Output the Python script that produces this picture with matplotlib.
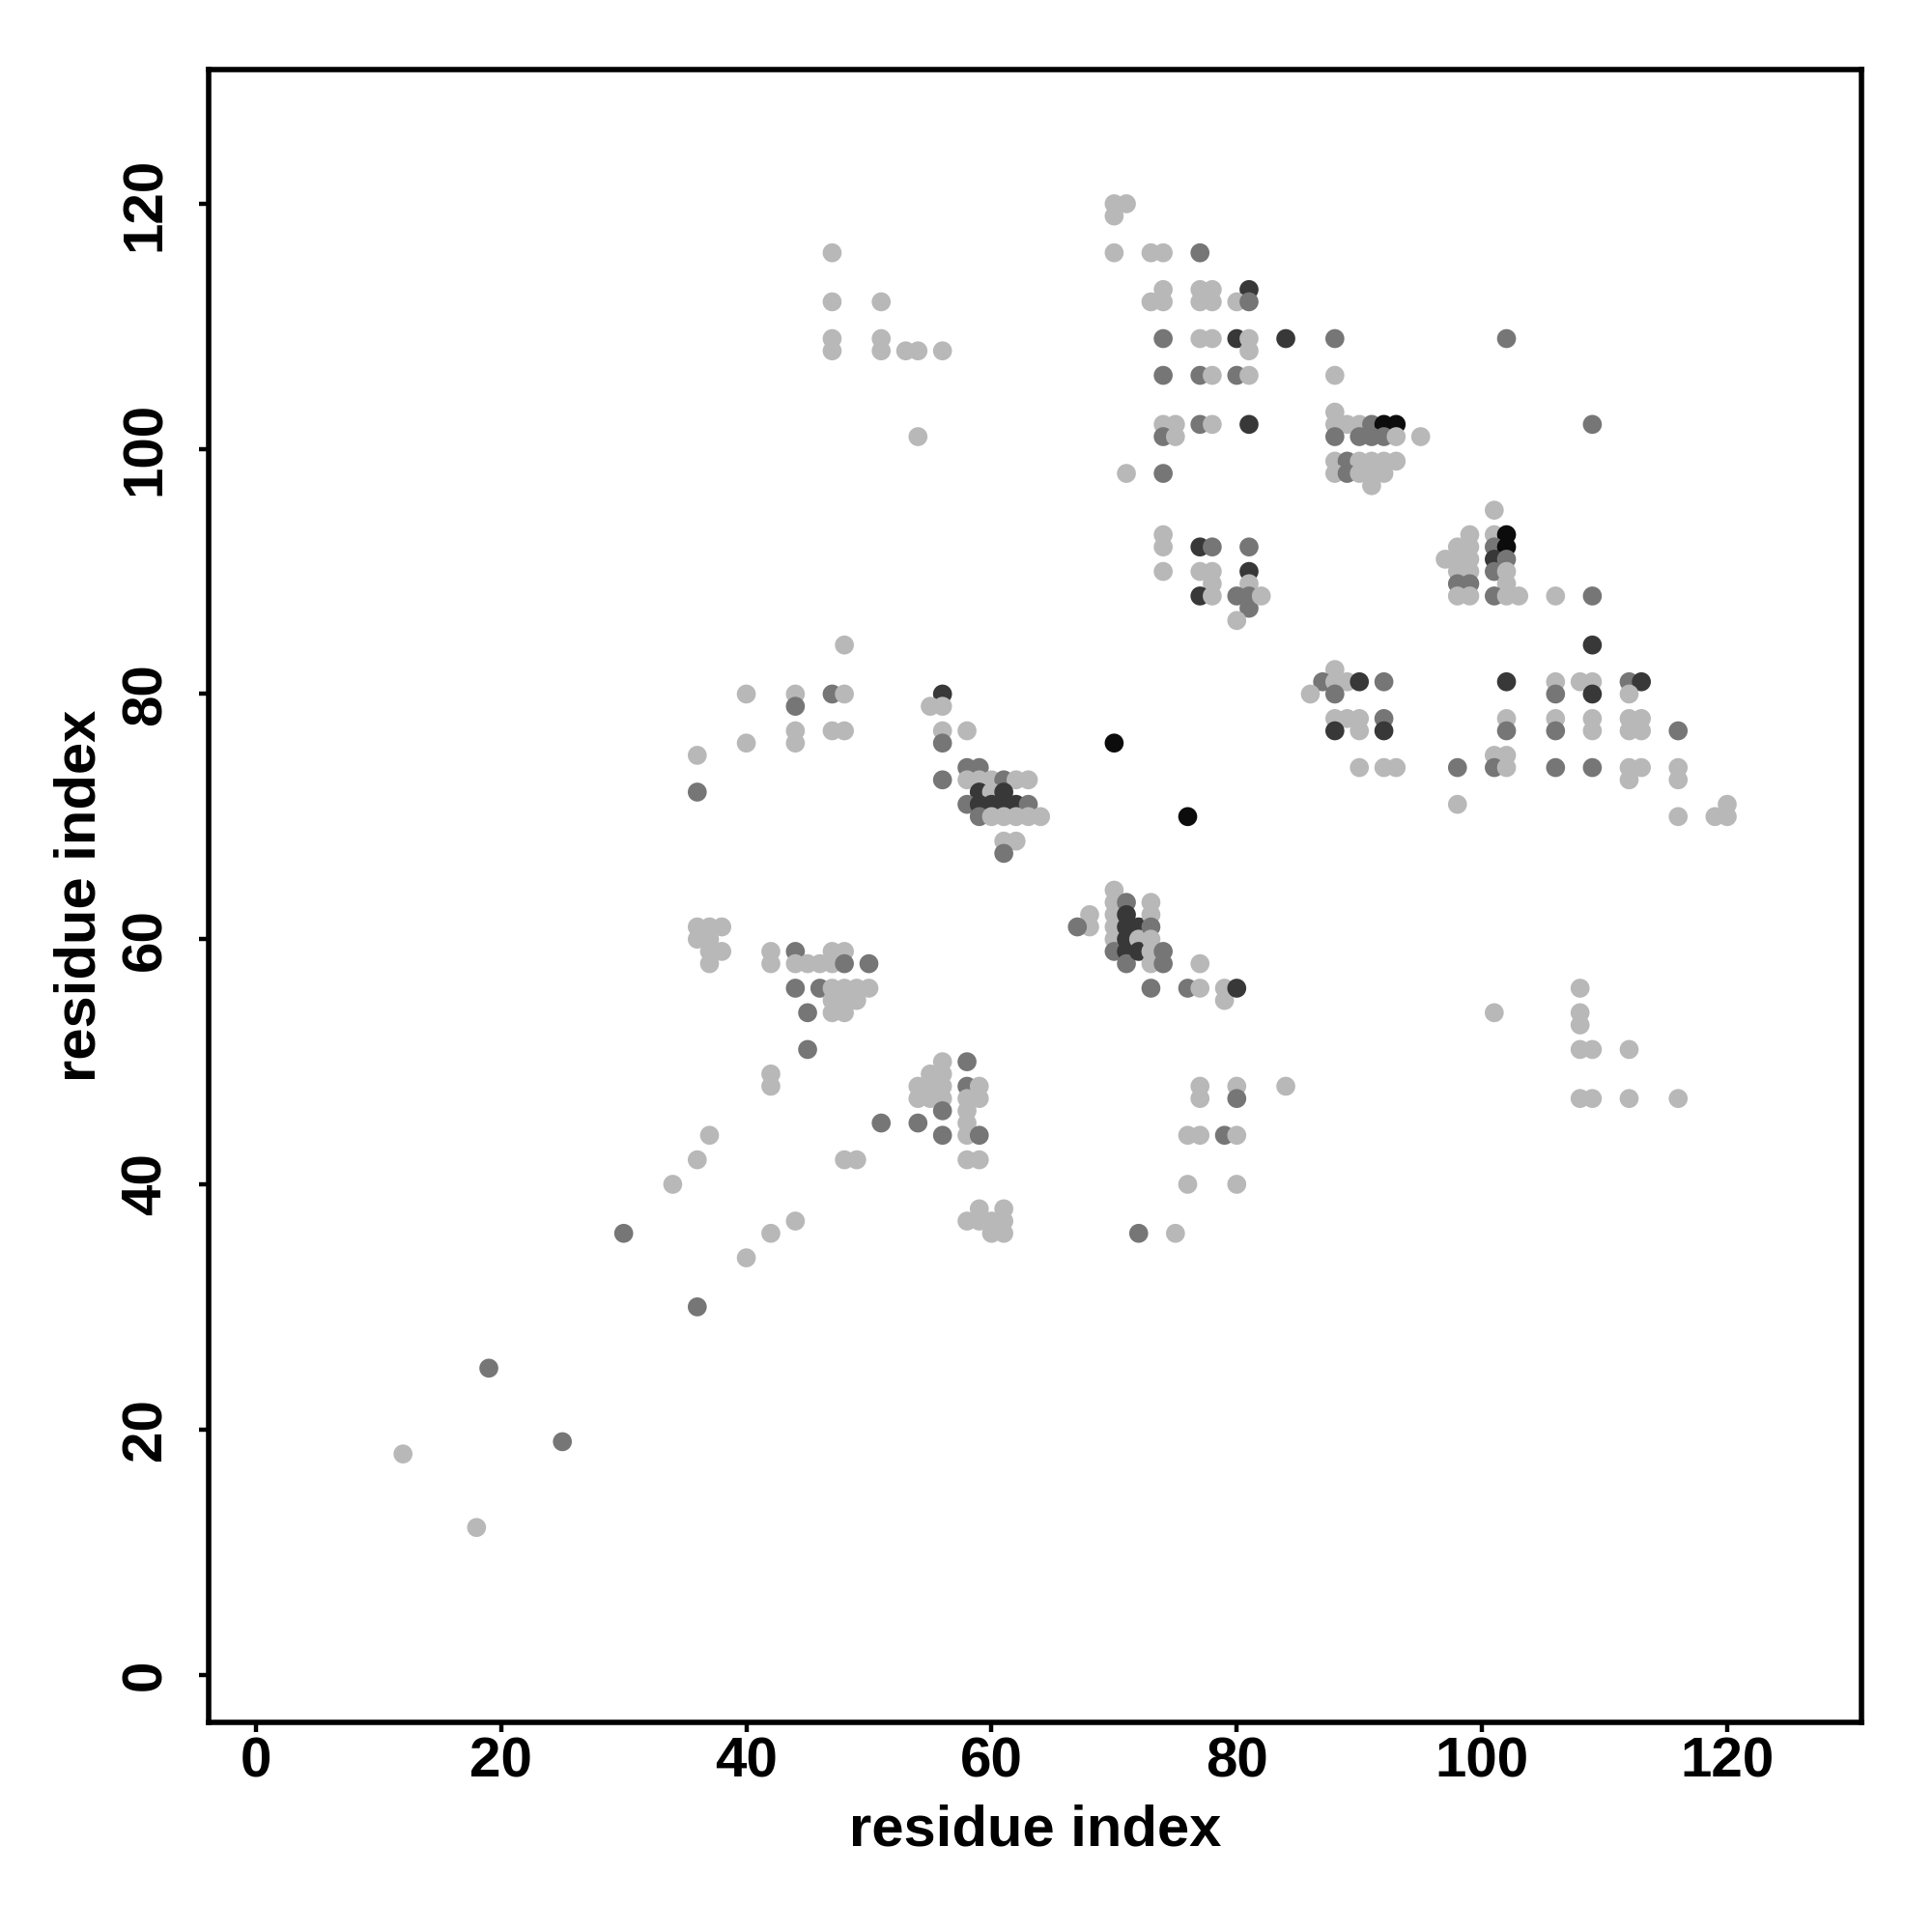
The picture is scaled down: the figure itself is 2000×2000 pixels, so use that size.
import matplotlib
matplotlib.use("Agg")
import matplotlib.pyplot as plt

# --- DATA: contact pairs (residue i, residue j) and contact level 1..4 ---
res_i = [
    47, 47, 51, 47, 47, 51, 51, 53, 54, 56, 54,
    70, 71, 70, 70, 73, 74, 77, 74, 73, 74, 77, 78, 77, 78, 81, 80, 81,
    74, 77, 78, 80, 81, 81, 84, 74, 77, 78, 80, 81,
    74, 75, 74, 75, 77, 78, 81, 71, 74,
    74, 74, 74, 77, 78, 81, 77, 78, 78, 77, 78, 81, 81, 80, 81, 81, 82, 80,
    88, 102, 88, 88, 88, 89, 90, 91, 92, 93, 88, 90, 91, 92, 93, 95,
    88, 89, 90, 91, 92, 93, 88, 89, 90, 91, 92, 91, 101, 109,
    99, 101, 102, 98, 99, 101, 102, 97, 98, 99, 101, 102,
    98, 99, 101, 102, 98, 99, 102, 98, 99, 101, 102, 103, 106, 109, 109,
    88, 87, 88, 89, 90, 92, 86, 88, 88, 89, 90, 92, 88, 90, 92,
    90, 92, 93, 98, 98, 102, 101, 102, 101, 102, 102, 102,
    106, 106, 106, 106, 106, 108, 109, 109, 109, 109, 109,
    112, 113, 112, 112, 113, 112, 113, 112, 113, 112,
    116, 116, 116, 116, 119, 120, 120,
    48, 40, 44, 44, 47, 48, 44, 44, 47, 48, 40, 36, 36,
    56, 55, 56, 56, 56, 58, 56, 58, 59, 58, 59, 60, 61, 62, 63,
    59, 60, 61, 58, 59, 60, 61, 62, 63, 59, 60, 61, 62, 63, 64, 61, 62, 61,
    70, 76, 70, 70, 70, 70, 70, 70, 68, 68, 67,
    71, 71, 71, 71, 71, 71, 72, 72, 72, 73, 73, 73, 73, 73, 73, 74, 74,
    73, 76, 77, 77, 79, 79, 80,
    36, 37, 38, 36, 37, 37, 38, 37, 42, 42, 44, 44, 45, 46, 47, 47, 48, 48, 50,
    44, 46, 47, 48, 49, 50, 47, 48, 49, 45, 47, 48, 45, 42, 42,
    51, 54, 56, 58, 55, 56, 54, 55, 56, 58, 59, 54, 55, 56, 58, 59,
    56, 58, 58, 56, 58, 59, 58, 59, 59, 61, 58, 59, 60, 61, 60, 61,
    77, 77, 80, 80, 76, 77, 79, 80, 76, 80, 72, 75, 84,
    101, 108, 108, 108, 108, 109, 112, 108, 109, 112, 116,
    48, 49, 37, 36, 34, 30, 42, 44, 40, 36, 19, 25, 12, 18,
]
res_j = [
    116, 112, 112, 109, 108, 109, 108, 108, 108, 108, 101,
    120, 120, 119, 116, 116, 116, 116, 113, 112, 112, 113, 113, 112, 112, 113, 112, 112,
    109, 109, 109, 109, 109, 108, 109, 106, 106, 106, 106, 106,
    102, 102, 101, 101, 102, 102, 102, 98, 98,
    93, 92, 90, 92, 92, 92, 90, 90, 89, 88, 88, 90, 89, 88, 88, 87, 88, 86,
    109, 109, 106, 103, 102, 102, 102, 102, 102, 102, 101, 101, 101, 101, 101, 101,
    99, 99, 99, 99, 99, 99, 98, 98, 98, 98, 98, 97, 95, 102,
    93, 93, 93, 92, 92, 92, 92, 91, 91, 91, 91, 91,
    90, 90, 90, 90, 89, 89, 89, 88, 88, 88, 88, 88, 88, 88, 84,
    82, 81, 81, 81, 81, 81, 80, 80, 78, 78, 78, 78, 77, 77, 77,
    74, 74, 74, 74, 71, 81, 75, 75, 74, 74, 78, 77,
    81, 80, 78, 77, 74, 81, 81, 80, 78, 77, 74,
    81, 81, 80, 78, 78, 77, 77, 74, 74, 73,
    77, 74, 73, 70, 70, 70, 71,
    84, 80, 80, 79, 80, 80, 77, 76, 77, 77, 76, 75, 72,
    80, 79, 79, 77, 76, 77, 73, 74, 74, 73, 73, 73, 73, 73, 73,
    72, 72, 72, 71, 71, 71, 71, 71, 71, 70, 70, 70, 70, 70, 70, 68, 68, 67,
    76, 70, 64, 63, 62, 61, 60, 59, 62, 61, 61,
    63, 62, 61, 60, 59, 58, 61, 60, 59, 63, 62, 61, 60, 59, 58, 59, 58,
    56, 56, 56, 58, 56, 55, 56,
    61, 61, 61, 60, 60, 59, 59, 58, 59, 58, 59, 58, 58, 58, 58, 59, 59, 58, 58,
    56, 56, 56, 56, 56, 56, 55, 55, 55, 54, 54, 54, 51, 49, 48,
    45, 45, 50, 50, 49, 49, 48, 48, 48, 48, 48, 47, 47, 47, 47, 47,
    46, 46, 45, 44, 44, 44, 42, 42, 38, 38, 37, 37, 37, 37, 36, 36,
    48, 47, 48, 47, 44, 44, 44, 44, 40, 40, 36, 36, 48,
    54, 56, 54, 53, 51, 51, 51, 47, 47, 47, 47,
    42, 42, 44, 42, 40, 36, 36, 37, 34, 30, 25, 19, 18, 12,
]
level = [
    1, 1, 1, 1, 1, 1, 1, 1, 1, 1, 1,
    1, 1, 1, 1, 1, 1, 2, 1, 1, 1, 1, 1, 1, 1, 3, 1, 2,
    2, 1, 1, 3, 1, 1, 3, 2, 2, 1, 2, 1,
    1, 1, 2, 1, 2, 1, 3, 1, 2,
    1, 1, 1, 3, 2, 2, 1, 1, 1, 3, 1, 3, 1, 2, 2, 2, 1, 1,
    2, 2, 1, 1, 1, 1, 1, 2, 4, 4, 2, 2, 2, 2, 1, 1,
    1, 2, 1, 1, 1, 1, 1, 2, 1, 1, 1, 1, 1, 2,
    1, 1, 4, 1, 1, 2, 4, 1, 1, 1, 3, 2,
    1, 1, 2, 1, 2, 2, 1, 1, 1, 2, 1, 1, 1, 2, 3,
    1, 2, 1, 1, 3, 2, 1, 2, 1, 1, 1, 2, 3, 1, 3,
    1, 1, 1, 2, 1, 3, 1, 1, 2, 1, 1, 2,
    1, 2, 1, 2, 2, 1, 1, 3, 1, 1, 2,
    2, 3, 1, 1, 1, 1, 1, 1, 1, 1,
    2, 1, 1, 1, 1, 1, 1,
    1, 1, 1, 2, 2, 1, 1, 1, 1, 1, 1, 1, 2,
    3, 1, 1, 1, 2, 1, 2, 2, 2, 1, 1, 1, 2, 1, 1,
    3, 1, 3, 2, 3, 3, 3, 3, 2, 2, 1, 1, 1, 1, 1, 1, 1, 2,
    4, 4, 1, 1, 1, 1, 1, 2, 1, 1, 2,
    2, 3, 3, 3, 3, 2, 3, 1, 3, 1, 1, 2, 1, 1, 1, 2, 2,
    2, 2, 1, 1, 1, 1, 3,
    1, 1, 1, 1, 1, 1, 1, 1, 1, 1, 2, 1, 1, 1, 1, 1, 1, 2, 2,
    2, 2, 1, 1, 1, 1, 1, 1, 1, 2, 1, 1, 2, 1, 1,
    2, 2, 1, 2, 1, 1, 1, 1, 1, 2, 1, 1, 1, 1, 1, 1,
    2, 1, 1, 2, 1, 2, 1, 1, 1, 1, 1, 1, 1, 1, 1, 1,
    1, 1, 1, 2, 1, 1, 2, 1, 1, 1, 2, 1, 1,
    1, 1, 1, 1, 1, 1, 1, 1, 1, 1, 1,
    1, 1, 1, 1, 1, 2, 1, 1, 1, 2, 2, 2, 1, 1,
]
ticks = [0, 20, 40, 60, 80, 100, 120]

# --- STYLE ---
grey_for_level = {1: '#b8b8b8', 2: '#767676', 3: '#383838', 4: '#0c0c0c'}
colors = [grey_for_level[v] for v in level]

plt.rcParams['font.family'] = ['Liberation Sans', 'DejaVu Sans']
plt.rcParams['font.weight'] = 'bold'

fig = plt.figure(figsize=(10, 10), dpi=200)
ax = fig.add_axes([0.108, 0.1085, 0.8555, 0.8555])

ax.scatter(res_i, res_j, s=50, c=colors, linewidths=0, zorder=3)

ax.set_xlim(-3.85, 130.95)
ax.set_ylim(-3.9, 130.95)
ax.set_xticks(ticks)
ax.set_yticks(ticks)
ax.set_xticklabels([str(t) for t in ticks], fontsize=21, fontweight='bold')
ax.set_yticklabels([str(t) for t in ticks], fontsize=21, fontweight='bold',
                   rotation=90, va='center')
ax.tick_params(axis='both', direction='out', length=3.6, width=1.6)
ax.tick_params(axis='x', pad=1.5)
ax.tick_params(axis='y', pad=10)

for sp in ax.spines.values():
    sp.set_linewidth(2.0)

ax.set_xlabel('residue index', fontsize=21.5, fontweight='bold', labelpad=6)
ax.set_ylabel('residue index', fontsize=21.5, fontweight='bold', labelpad=5)

fig.savefig('out.png', dpi=200)
